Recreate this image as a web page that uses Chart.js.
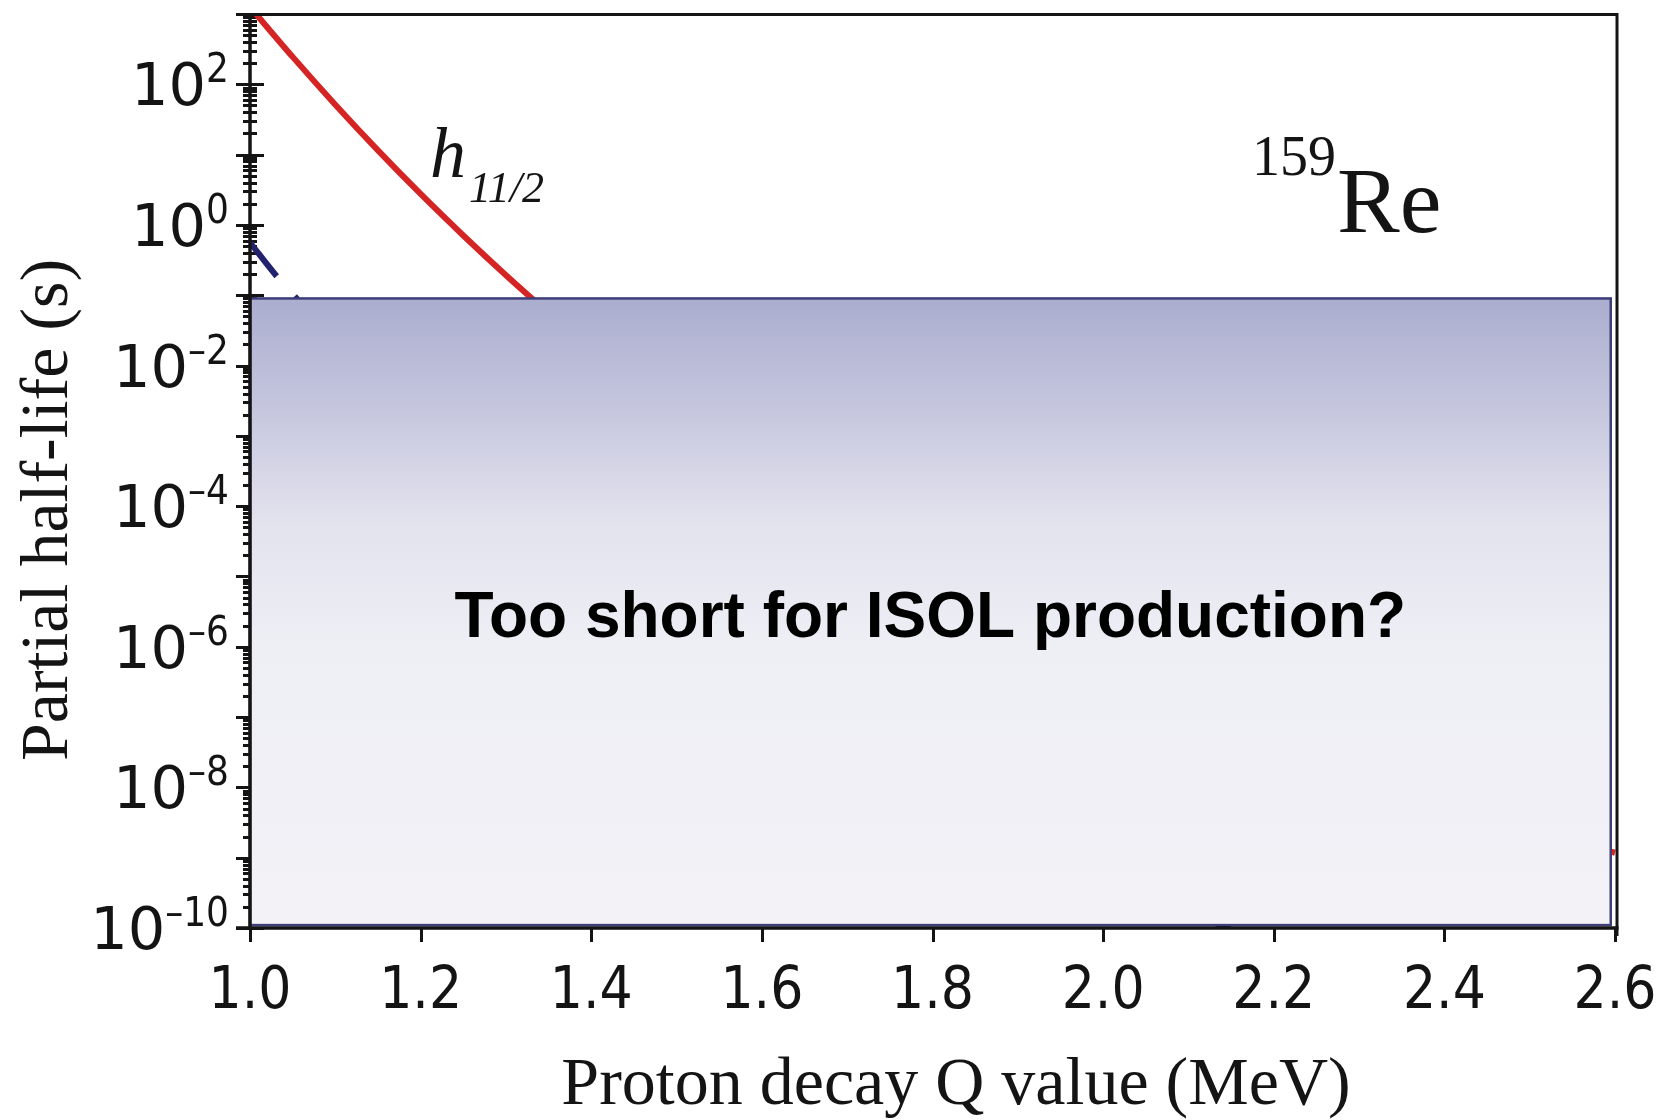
<!DOCTYPE html>
<html>
<head>
<meta charset="utf-8">
<title>159Re proton decay half-life</title>
<script src="https://cdn.jsdelivr.net/npm/chart.js@4.4.1/dist/chart.umd.min.js"></script>
<style>
  html, body { margin: 0; padding: 0; background: #fff; }
  #wrap { width: 1665px; height: 1120px; }
</style>
</head>
<body>
<div id="wrap"><canvas id="halfLifeChart" width="1665" height="1120"></canvas></div>
<script>
// h11/2 state: Q value (MeV) and log10 of the partial half-life (s)
const h112Q    = [1.00, 1.05, 1.10, 1.15, 1.20, 1.25, 1.30, 1.35, 1.40, 1.50, 1.60, 1.80, 2.00, 2.20, 2.40, 2.60];
const h112LogT = [3.10, 2.39, 1.71, 1.06, 0.44, -0.15, -0.715, -1.255, -1.78, -2.78, -3.70, -5.25, -6.50, -7.52, -8.30, -8.93];

// low-l state (dashed)
const lowQ    = [1.00, 1.032, 1.055, 1.10, 1.20, 1.40, 1.60, 1.80, 2.00, 2.20];
const lowLogT = [-0.25, -0.74, -1.05, -1.65, -2.85, -4.90, -6.60, -8.00, -9.20, -10.30];

// labelled ticks
const xTickValues = [1.0, 1.2, 1.4, 1.6, 1.8, 2.0, 2.2, 2.4, 2.6];
const yTickExponents = [-10, -8, -6, -4, -2, 0, 2];

// region of half-lives too short for ISOL
const isolQRange = [1.0, 2.595];
const isolTRange = [1.1e-10, 0.09];

const isDecade = v => Math.abs(Math.log10(v) - Math.round(Math.log10(v))) < 1e-9;
const INK = '#141414';

const decor = {
  id: 'decor',
  beforeDatasetsDraw(chart) {
    const { ctx, chartArea: a, scales: { x, y } } = chart;
    ctx.save();
    ctx.strokeStyle = INK;
    ctx.lineWidth = 3;
    ctx.beginPath();
    // y ticks cross the axis line
    y.ticks.forEach(t => {
      const py = Math.round(y.getPixelForValue(t.value)) + 0.5;
      const len = isDecade(t.value) ? 14 : 7;
      ctx.moveTo(a.left - len, py);
      ctx.lineTo(a.left + len, py);
    });
    // x ticks point down
    x.ticks.forEach(t => {
      const px = Math.round(x.getPixelForValue(t.value)) + 0.5;
      const len = Math.round(t.value * 10) % 2 === 0 ? 14 : 7;
      ctx.moveTo(px, a.bottom);
      ctx.lineTo(px, a.bottom + len);
    });
    ctx.stroke();

    // y tick labels as 10 with a raised exponent
    ctx.fillStyle = INK;
    ctx.textBaseline = 'alphabetic';
    yTickExponents.forEach(e => {
      const py = y.getPixelForValue(Math.pow(10, e));
      const exp = String(e).replace('-', '\u2013');
      ctx.font = "40px 'DejaVu Sans Condensed', 'DejaVu Sans', sans-serif";
      const w = ctx.measureText(exp).width;
      const right = a.left - 21;
      ctx.textAlign = 'left';
      ctx.fillText(exp, right - w, py - 2);
      ctx.font = "59px 'DejaVu Sans', sans-serif";
      ctx.textAlign = 'right';
      ctx.fillText('10', right - w, py + 21);
    });
    ctx.restore();
  },
  afterDatasetsDraw(chart) {
    const { ctx, chartArea: a, scales: { x, y } } = chart;
    ctx.save();

    // shaded box
    const bx0 = x.getPixelForValue(isolQRange[0]);
    const bx1 = x.getPixelForValue(isolQRange[1]);
    const by0 = y.getPixelForValue(isolTRange[1]);
    const by1 = y.getPixelForValue(isolTRange[0]);
    const g = ctx.createLinearGradient(0, by0, 0, by1);
    g.addColorStop(0, '#abadcf');
    g.addColorStop(0.18, '#c6c7de');
    g.addColorStop(0.36, '#e3e3ee');
    g.addColorStop(0.55, '#eeeef5');
    g.addColorStop(1, '#f2f2f7');
    ctx.fillStyle = g;
    ctx.fillRect(bx0, by0, bx1 - bx0, by1 - by0);
    ctx.strokeStyle = '#3d3d78';
    ctx.lineWidth = 2.5;
    ctx.strokeRect(bx0, by0, bx1 - bx0, by1 - by0);

    ctx.fillStyle = '#000';
    ctx.font = "bold 64px 'Liberation Sans', Arial, sans-serif";
    ctx.textAlign = 'center';
    ctx.textBaseline = 'alphabetic';
    ctx.fillText('Too short for ISOL production?', (bx0 + bx1) / 2, 637);

    // frame
    ctx.strokeStyle = INK;
    ctx.lineWidth = 3;
    ctx.beginPath();
    ctx.moveTo(a.left, a.top + 0.5);
    ctx.lineTo(a.right + 3.5, a.top + 0.5);
    ctx.moveTo(a.right + 2, a.top);
    ctx.lineTo(a.right + 2, a.bottom + 8);
    ctx.stroke();
    ctx.lineWidth = 3.5;
    ctx.beginPath();
    ctx.moveTo(a.left, a.top);
    ctx.lineTo(a.left, a.bottom);
    ctx.moveTo(a.left - 14, a.bottom);
    ctx.lineTo(a.right + 3.5, a.bottom);
    ctx.stroke();

    // curve and nucleus labels
    ctx.fillStyle = INK;
    ctx.textAlign = 'left';
    ctx.font = "italic 72px 'Liberation Serif', serif";
    ctx.fillText('h', 430, 177);
    ctx.font = "italic 44px 'Liberation Serif', serif";
    ctx.fillText('11/2', 469, 202);

    ctx.font = "56px 'Liberation Serif', serif";
    ctx.fillText('159', 1252, 175);
    ctx.font = "94px 'Liberation Serif', serif";
    ctx.fillText('Re', 1337, 232);

    // axis titles
    ctx.font = "68px 'Liberation Serif', serif";
    ctx.textAlign = 'center';
    ctx.fillText('Proton decay Q value (MeV)', 956, 1104);
    ctx.translate(67, 510);
    ctx.rotate(-Math.PI / 2);
    ctx.fillText('Partial half-life (s)', 0, 0);

    ctx.restore();
  }
};

const ctx = document.getElementById('halfLifeChart').getContext('2d');

new Chart(ctx, {
  type: 'line',
  data: {
    datasets: [{
      label: 'h11/2',
      data: h112Q.map((q, i) => ({ x: q, y: Math.pow(10, h112LogT[i]) })),
      borderColor: '#d42424',
      borderWidth: 6,
      pointRadius: 0,
      cubicInterpolationMode: 'monotone',
      clip: { left: 0, top: 0, right: 3, bottom: 0 }
    }, {
      label: 'low-l',
      data: lowQ.map((q, i) => ({ x: q, y: Math.pow(10, lowLogT[i]) })),
      borderColor: '#22226e',
      borderWidth: 6,
      borderDash: [43, 27],
      pointRadius: 0,
      cubicInterpolationMode: 'monotone',
      clip: 0
    }]
  },
  options: {
    responsive: false,
    devicePixelRatio: 1,
    animation: false,
    events: [],
    layout: { padding: { top: 14, right: 50, left: 0, bottom: 0 } },
    plugins: { legend: { display: false }, tooltip: { enabled: false } },
    scales: {
      x: {
        type: 'linear',
        min: 1.0,
        max: 2.6,
        grid: { display: false, drawTicks: false },
        border: { display: false },
        afterBuildTicks: scale => {
          const ticks = [];
          for (let k = 10; k <= 26; k++) ticks.push({ value: k / 10 });
          scale.ticks = ticks;
        },
        afterFit: scale => {
          scale.height = 192;
          scale.paddingLeft = 0;
          scale.paddingRight = 0;
        },
        ticks: {
          autoSkip: false,
          maxRotation: 0,
          padding: 30,
          color: INK,
          font: { family: "'DejaVu Sans Condensed', 'DejaVu Sans', sans-serif", size: 58 },
          callback: v => xTickValues.some(t => Math.abs(t - v) < 1e-6) ? v.toFixed(1) : null
        }
      },
      y: {
        type: 'logarithmic',
        min: 1e-10,
        max: 1e3,
        grid: { display: false, drawTicks: false },
        border: { display: false },
        afterBuildTicks: scale => {
          const ticks = [];
          for (let e = -10; e < 3; e++) {
            for (let m = 1; m < 10; m++) ticks.push({ value: m * Math.pow(10, e) });
          }
          ticks.push({ value: 1e3 });
          scale.ticks = ticks;
        },
        afterFit: scale => {
          scale.width = 250;
          scale.paddingTop = 0;
          scale.paddingBottom = 0;
        },
        // labels are drawn by the decor plugin
        ticks: { display: false, autoSkip: false }
      }
    }
  },
  plugins: [decor]
});
</script>
</body>
</html>
